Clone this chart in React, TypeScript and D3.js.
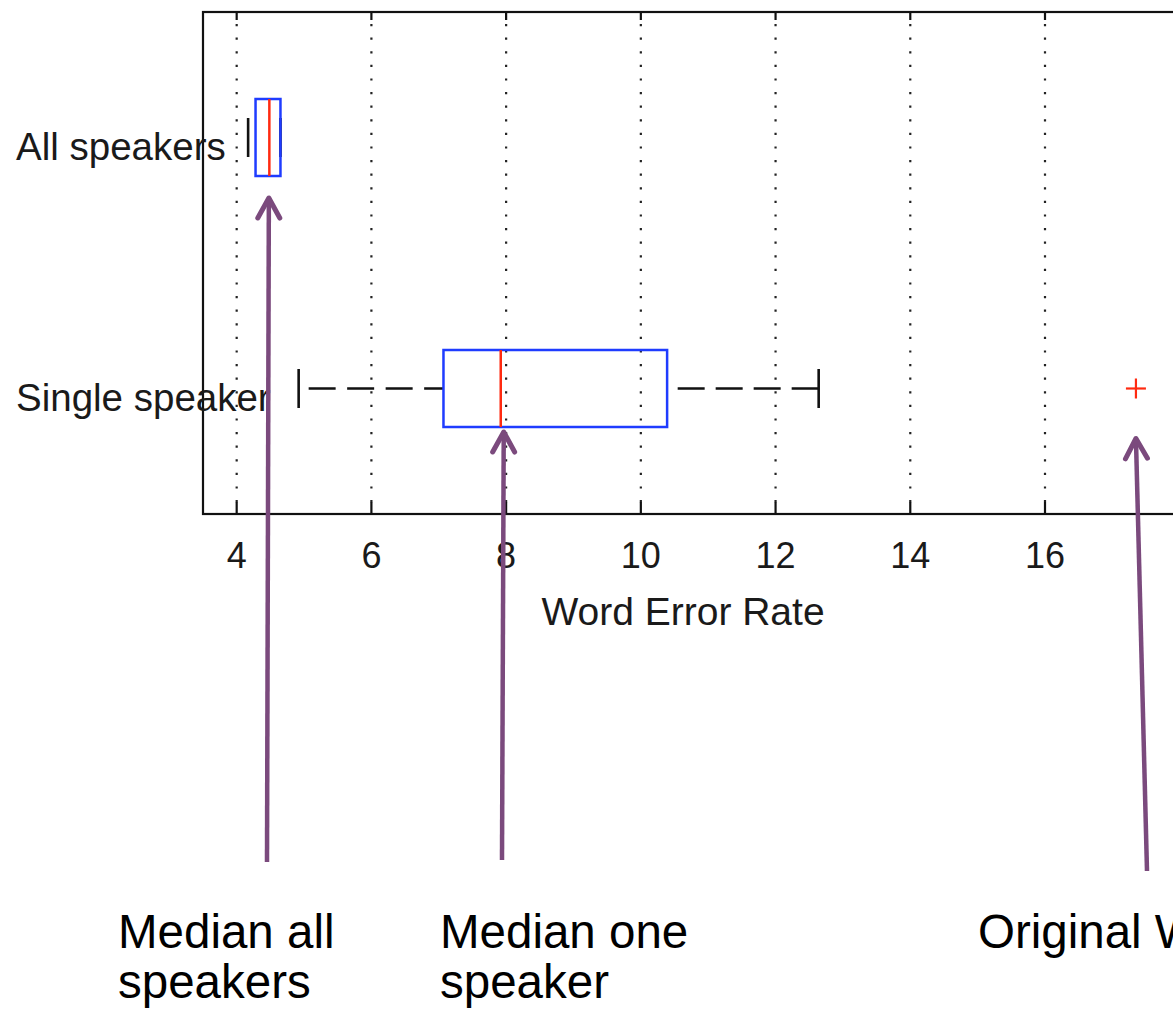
import React from "react";
import * as d3 from "d3";

// Horizontal boxplot of word error rates with explanatory arrows
const categories = ["Single speaker", "All speakers"];
const positions = [1, 2];
const lowerWhisker = [4.92, 4.17];
const q1 = [7.07, 4.28];
const median = [7.92, 4.485];
const q3 = [10.39, 4.65];
const upperWhisker = [12.64, 4.65];
const outliers: number[][] = [[17.35], []];

const xTicks = [4, 6, 8, 10, 12, 14, 16];
const xDomain: [number, number] = [3.5, 18];
const yDomain: [number, number] = [0.5, 2.5];
const xLabel = "Word Error Rate";

// Callouts: which box/value each arrow points at, and its caption
const annotationLines = [
  ["Median all", "speakers"],
  ["Median one", "speaker"],
  ["Original WER", ""],
];

const W = 1173;
const H = 1011;
const plot = { left: 203, top: 12, bottom: 514, pxPerUnit: 67.36 };

const BOX_HALF = 38.5;
const CAP_HALF = 19.5;
const PURPLE = "#7b4a7d";
const BLUE = "#1f3cff";
const RED = "#ff2a10";
const FONT = "'Liberation Sans', Arial, Helvetica, sans-serif";

function Arrow({ x1, y1, x2, y2 }: { x1: number; y1: number; x2: number; y2: number }) {
  const dx = x2 - x1;
  const dy = y2 - y1;
  const len = Math.hypot(dx, dy);
  const ux = dx / len;
  const uy = dy / len;
  const back = 20;
  const spread = 11;
  const bx = x2 - ux * back;
  const by = y2 - uy * back;
  const px = -uy * spread;
  const py = ux * spread;
  return (
    <g stroke={PURPLE} fill="none" strokeLinecap="round" strokeLinejoin="round">
      <line x1={x1} y1={y1} x2={x2 - ux * 2} y2={y2 - uy * 2} strokeWidth={4.5} strokeLinecap="butt" />
      <polyline points={`${bx + px},${by + py} ${x2},${y2} ${bx - px},${by - py}`} strokeWidth={5} />
    </g>
  );
}

export default function App() {
  const x = d3
    .scaleLinear()
    .domain(xDomain)
    .range([plot.left, plot.left + (xDomain[1] - xDomain[0]) * plot.pxPerUnit]);
  const y = d3.scaleLinear().domain(yDomain).range([plot.bottom, plot.top]);

  const right = x(xDomain[1]);
  const gridDots = "2.2 11.4";

  // arrow geometry anchored on the plotted values
  const iAll = 1;
  const iOne = 0;
  const arrows = [
    { x1: 267, y1: 862, x2: x(median[iAll]) - 0.5, y2: y(positions[iAll]) + BOX_HALF + 22 },
    { x1: 502, y1: 860, x2: x(median[iOne]) + 3, y2: y(positions[iOne]) + BOX_HALF + 5 },
    { x1: 1147, y1: 871, x2: x(outliers[iOne][0]), y2: y(positions[iOne]) + 50 },
  ];
  const captionX = [118, 440, 978];

  return (
    <svg
      width={W}
      height={H}
      viewBox={`0 0 ${W} ${H}`}
      style={{ position: "absolute", left: 0, top: 0, background: "#fff" }}
    >
      <rect x={0} y={0} width={W} height={H} fill="#fff" />

      {/* dotted vertical grid */}
      {xTicks.map((t) => (
        <line
          key={`g${t}`}
          x1={x(t)}
          x2={x(t)}
          y1={plot.top + 12}
          y2={plot.bottom}
          stroke="#222"
          strokeWidth={2.2}
          strokeDasharray={gridDots}
        />
      ))}

      {/* tick marks, inward at top and bottom */}
      {xTicks.map((t) => (
        <g key={`t${t}`} stroke="#111" strokeWidth={2.2}>
          <line x1={x(t)} x2={x(t)} y1={plot.top} y2={plot.top + 8} />
          <line x1={x(t)} x2={x(t)} y1={plot.bottom} y2={plot.bottom - 12} />
        </g>
      ))}

      {/* boxes */}
      {positions.map((p, i) => {
        const cy = y(p);
        return (
          <g key={categories[i]}>
            {/* whiskers */}
            <line
              x1={x(lowerWhisker[i])}
              x2={x(q1[i])}
              y1={cy}
              y2={cy}
              stroke="#111"
              strokeWidth={2.6}
              strokeDasharray="27 11.5"
              strokeDashoffset={28.5}
            />
            <line
              x1={x(upperWhisker[i])}
              x2={x(q3[i])}
              y1={cy}
              y2={cy}
              stroke="#111"
              strokeWidth={2.6}
              strokeDasharray="27 11"
            />
            <line x1={x(lowerWhisker[i])} x2={x(lowerWhisker[i])} y1={cy - CAP_HALF} y2={cy + CAP_HALF} stroke="#111" strokeWidth={2.6} />
            <line x1={x(upperWhisker[i])} x2={x(upperWhisker[i])} y1={cy - CAP_HALF} y2={cy + CAP_HALF} stroke="#111" strokeWidth={2.6} />
            <rect
              x={x(q1[i])}
              y={cy - BOX_HALF}
              width={x(q3[i]) - x(q1[i])}
              height={BOX_HALF * 2}
              fill="none"
              stroke={BLUE}
              strokeWidth={2.5}
            />
            <line x1={x(median[i])} x2={x(median[i])} y1={cy - BOX_HALF} y2={cy + BOX_HALF} stroke={RED} strokeWidth={2.5} />
            {outliers[i].map((o, k) => (
              <g key={k} stroke={RED} strokeWidth={2.2}>
                <line x1={x(o) - 10} x2={x(o) + 10} y1={cy} y2={cy} />
                <line x1={x(o)} x2={x(o)} y1={cy - 10} y2={cy + 10} />
              </g>
            ))}
          </g>
        );
      })}

      {/* axes frame */}
      <rect
        x={plot.left}
        y={plot.top}
        width={right - plot.left}
        height={plot.bottom - plot.top}
        fill="none"
        stroke="#111"
        strokeWidth={2.2}
      />

      {/* tick labels */}
      {xTicks.map((t) => (
        <text
          key={`l${t}`}
          x={x(t)}
          y={568}
          textAnchor="middle"
          fontFamily={FONT}
          fontSize={36}
          fill="#1a1a1a"
        >
          {t}
        </text>
      ))}
      <text x={683} y={625} textAnchor="middle" fontFamily={FONT} fontSize={39} fill="#1a1a1a">
        {xLabel}
      </text>

      {/* category labels */}
      {positions.map((p, i) => (
        <text key={`c${i}`} x={16} y={y(p) + 22.5} fontFamily={FONT} fontSize={38.5} fill="#1a1a1a">
          {categories[i]}
        </text>
      ))}

      {/* callout arrows */}
      {arrows.map((a, i) => (
        <Arrow key={`a${i}`} {...a} />
      ))}

      {/* callout captions */}
      {annotationLines.map((lines, i) => (
        <text key={`n${i}`} fontFamily={FONT} fontSize={47.5} fill="#000">
          <tspan x={captionX[i]} y={948}>
            {lines[0]}
          </tspan>
          {lines[1] && (
            <tspan x={captionX[i]} y={998}>
              {lines[1]}
            </tspan>
          )}
        </text>
      ))}
    </svg>
  );
}
